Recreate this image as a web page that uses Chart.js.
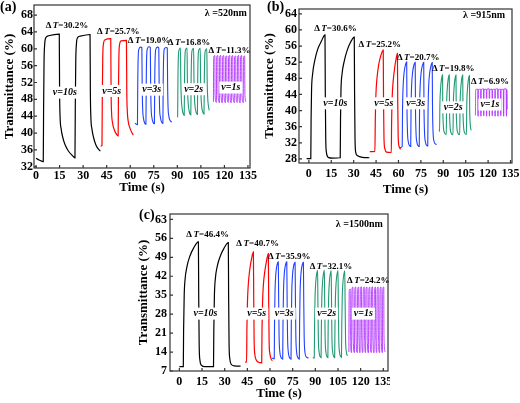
<!DOCTYPE html>
<html>
<head>
<meta charset="utf-8">
<script src="https://cdn.jsdelivr.net/npm/chart.js@4.4.1/dist/chart.umd.min.js"></script>
<style>
body { margin: 0; background: #fff; width: 520px; height: 403px; position: relative; overflow: hidden; }
canvas { position: absolute; }
.tag { position: absolute; font: bold 14px 'Liberation Serif', serif; line-height: 14px; color: #000; }
</style>
</head>
<body>
<canvas id="pa" width="260" height="200" style="left:0;top:0;width:260px;height:200px"></canvas>
<canvas id="pb" width="260" height="200" style="left:260px;top:0;width:260px;height:200px"></canvas>
<canvas id="pc" width="260" height="203" style="left:130px;top:200px;width:260px;height:203px"></canvas>
<div class="tag" style="left:0;top:0">(a)</div>
<div class="tag" style="left:267px;top:0">(b)</div>
<div class="tag" style="left:139px;top:208px">(c)</div>
<script>
// x ticks shared by all three panels
const xTicks = [0, 15, 30, 45, 60, 75, 90, 105, 120, 135];
const aYTicks = [32, 36, 40, 44, 48, 52, 56, 60, 64, 68];
const bYTicks = [28, 32, 36, 40, 44, 48, 52, 56, 60, 64];
const cYTicks = [7, 14, 21, 28, 35, 42, 49, 56, 63];

const speeds = ['10s', '5s', '3s', '2s', '1s'];

// panel (a), lambda = 520 nm
const aDelta = ['30.2', '25.7', '19.0', '16.8', '11.3'];
const aDeltaAt = [[19.7, 65.6], [52.4, 64.0], [72.0, 62.0], [97.5, 61.5], [123.3, 59.5]];
const aSpeedAt = [[18.3, 49.6], [48.2, 50.0], [73.7, 50.3], [100.4, 50.4], [124.1, 50.8]];
const aBlack = [[0,34.0],[2,33.6],[4.6,33.2],[4.8,45],[5.1,57],[5.5,61],[6.2,62.6],[8,63.1],[14.8,63.5],[15.0,50],[15.3,44],[16,41],[17,39],[18.5,37.2],[20.5,35.8],[23,34.7],[24.8,34.1],[25.0,46],[25.3,57],[25.7,61],[26.4,62.6],[28,63.0],[34.4,63.4],[34.6,50],[34.9,44],[35.6,41],[36.6,39],[38,37.3],[39.5,36.3],[41,35.7]];
const aRed = [[41.2,36.9],[42.0,37.0],[42.2,48],[42.5,58],[43.0,61.3],[43.8,62.1],[47.6,62.4],[47.8,50],[48.1,45],[48.8,42.3],[50,40.6],[51.5,39.6],[52.3,39.3],[52.5,50],[52.8,58.5],[53.3,61.2],[54.1,61.9],[57.6,62.0],[57.8,50],[58.1,45.5],[58.8,42.6],[60,41],[61.2,40],[62,39.5]];
const aBlue = [[63.0,42.3],
  [64.6,42.0],[64.8,52],[65.1,58.3],[65.6,60.0],[66.6,60.4],[67.4,60.3],[67.6,52],[67.9,46],[68.4,43.6],[69.2,42.4],
  [70.0,42.1],[70.2,52],[70.5,58.4],[71.0,60.1],[72.0,60.5],[72.8,60.3],[73.0,52],[73.3,46],[73.8,43.7],[74.6,42.5],
  [75.4,42.2],[75.6,52],[75.9,58.2],[76.4,60.0],[77.4,60.4],[78.2,60.2],[78.4,52],[78.7,46],[79.2,43.8],[80.0,42.6],
  [80.8,42.3],[81.0,52],[81.3,58.2],[81.8,60.0],[82.8,60.3],[83.6,60.2],[83.8,52],[84.1,46.2],[84.6,44],[85.4,43],[86.5,42.6]];
const aGreen = [[89.8,43.8],
  [90.2,43.9],[90.4,53],[90.7,58.4],[91.2,59.8],[92.0,60.2],[92.2,53],[92.5,48.5],[93.0,46],[93.7,44.6],
  [94.4,44.2],[94.6,53],[94.9,58.5],[95.4,59.9],[96.2,60.2],[96.4,53],[96.7,48.5],[97.2,46],[97.9,44.7],
  [98.6,44.3],[98.8,53],[99.1,58.4],[99.6,59.8],[100.4,60.1],[100.6,53],[100.9,48.5],[101.4,46],[102.1,44.8],
  [102.8,44.4],[103.0,53],[103.3,58.4],[103.8,59.8],[104.6,60.1],[104.8,53],[105.1,48.6],[105.6,46.1],[106.3,44.9],
  [107.0,44.5],[107.2,53],[107.5,58.3],[108.0,59.7],[108.8,60.0],[109.0,53],[109.3,48.8],[109.8,46.5],[110.3,45.4]];
const aPurple = [
  [113.0,47.4],[113.15,58.0],[113.9,58.4],[114.05,49],[114.8,47.3],
  [114.9,47.3],[115.05,58.0],[115.8,58.4],[115.95,49],[116.7,47.3],
  [116.8,47.2],[116.95,58.1],[117.7,58.4],[117.85,49],[118.6,47.2],
  [118.7,47.3],[118.85,58.0],[119.6,58.4],[119.75,49],[120.5,47.3],
  [120.6,47.2],[120.75,58.0],[121.5,58.3],[121.65,49],[122.4,47.3],
  [122.5,47.3],[122.65,58.1],[123.4,58.4],[123.55,49],[124.3,47.2],
  [124.4,47.3],[124.55,58.0],[125.3,58.4],[125.45,49],[126.2,47.3],
  [126.3,47.2],[126.45,58.0],[127.2,58.3],[127.35,49],[128.1,47.3],
  [128.2,47.3],[128.35,58.1],[129.1,58.4],[129.25,49],[130.0,47.2],
  [130.1,47.3],[130.25,58.0],[131.0,58.4],[131.15,49],[131.9,47.3],
  [132.0,47.2],[132.15,58.0],[132.9,58.3],[133.05,49],[133.8,47.4]];

// panel (b), lambda = 915 nm
const bDelta = ['30.6', '25.2', '20.7', '19.8', '6.9'];
const bDeltaAt = [[17.8, 60.2], [47.5, 56.3], [73.2, 53.2], [96.6, 50.5], [121.2, 47.2]];
const bSpeedAt = [[17.7, 41.8], [50.2, 41.8], [71.5, 41.8], [96.6, 40.8], [121.2, 41.5]];
const bBlack = [[-1.5,28.1],[1.3,28.1],[1.5,38],[1.8,45],[2.5,49],[4,52.5],[6,55.3],[8.5,57.3],[10.8,58.8],[11.0,45],[11.3,33],[11.8,29.5],[13,28.4],[16,28.2],[21.0,28.3],[21.2,38],[21.5,45],[22.2,49],[23.7,52.3],[25.7,55],[28,57],[30.4,58.2],[30.6,45],[30.9,33],[31.4,29.6],[32.6,28.8],[36,28.4],[40.5,28.3]];
const bRed = [[40.8,29.8],[44.2,29.9],[44.5,38],[44.9,44],[45.6,48],[46.8,51.5],[48.3,53.8],[49.8,55.0],[50.0,42],[50.3,33],[50.9,30.5],[52,29.7],[55.2,29.6],[55.4,37],[55.8,43.5],[56.5,47.5],[57.6,51],[58.5,53],[59.3,54.2],[59.5,42],[59.8,33.5],[60.5,31],[61.5,30.4]];
const bBlue = [[61.0,30.8],
  [62.5,31.1],[62.7,40],[63.1,46],[63.8,49.5],[64.7,51.4],[65.5,52.1],[65.65,42],[66.0,35],[66.7,32],[67.7,31.2],
  [68.2,31.1],[68.4,40],[68.8,46.2],[69.5,49.6],[70.4,51.4],[71.2,52.0],[71.35,42],[71.7,35],[72.4,32],[73.4,31.2],
  [73.9,31.1],[74.1,40],[74.5,46],[75.2,49.5],[76.1,51.3],[76.9,52.0],[77.05,42],[77.4,35],[78.1,32.1],[79.1,31.3],
  [79.6,31.2],[79.8,40],[80.2,46],[80.9,49.4],[81.8,51.2],[82.6,51.9],[82.75,42],[83.1,35.2],[83.8,32.4],[84.8,31.7],[85.5,31.6]];
const bGreen = [[87.3,35.3],
  [87.5,34.8],[87.7,41],[88.2,45.5],[88.8,47.8],[89.5,48.9],[89.65,41],[90.0,36.5],[90.7,34.6],[91.8,34.1],
  [92.0,34.0],[92.2,41],[92.7,45.6],[93.3,47.9],[94.0,48.9],[94.15,41],[94.5,36.4],[95.2,34.5],[96.3,34.0],
  [96.5,34.0],[96.7,41],[97.2,45.5],[97.8,47.8],[98.5,48.8],[98.65,41],[99.0,36.4],[99.7,34.5],[100.8,34.0],
  [101.0,34.0],[101.2,41],[101.7,45.5],[102.3,47.8],[103.0,48.8],[103.15,41],[103.5,36.5],[104.2,34.6],[105.3,34.1],
  [105.5,34.1],[105.7,41],[106.2,45.4],[106.8,47.7],[107.5,48.7],[107.65,41],[108.0,36.8],[108.6,35.1]];
const bPurple = [[111.5,38.8],[111.7,45.2],
  [113.1,45.3],[113.2,39],[113.35,38.6],[113.5,45.2],
  [115.0,45.3],[115.1,39],[115.25,38.6],[115.4,45.2],
  [116.9,45.4],[117.0,39],[117.15,38.7],[117.3,45.2],
  [118.8,45.3],[118.9,39],[119.05,38.6],[119.2,45.3],
  [120.7,45.4],[120.8,39],[120.95,38.6],[121.1,45.2],
  [122.6,45.3],[122.7,39],[122.85,38.7],[123.0,45.2],
  [124.5,45.3],[124.6,39],[124.75,38.6],[124.9,45.3],
  [126.4,45.4],[126.5,39],[126.65,38.6],[126.8,45.2],
  [128.3,45.3],[128.4,39],[128.55,38.7],[128.7,45.2],
  [130.2,45.3],[130.3,39],[130.45,38.6],[130.6,45.3],
  [132.1,45.4],[132.2,39],[132.35,38.6],[132.5,45.2],[132.8,40.3]];

// panel (c), lambda = 1500 nm
const cDelta = ['46.4', '40.7', '35.9', '32.1', '24.2'];
const cDeltaAt = [[18.7, 57.2], [51.8, 54.1], [72.7, 49.4], [100.3, 45.5], [125.1, 40.5]];
const cSpeedAt = [[17.3, 28.2], [51.2, 28.2], [69.4, 28.2], [97.5, 28.2], [121.8, 28.2]];
const cBlack = [[0,8.6],[2.6,8.6],[2.8,22],[3.2,35],[3.8,41],[5,45.5],[7,49.5],[9.5,52.5],[12.6,54.7],[12.8,35],[13.1,17],[13.6,11],[14.5,9.2],[17,8.6],[22.6,8.6],[22.8,22],[23.2,35],[23.8,41],[25,45.5],[27,49.3],[29.5,52.3],[32.4,54.4],[32.6,35],[32.9,17],[33.4,11.5],[34.3,9.5],[36.5,8.9],[40.5,8.8]];
const cRed = [[43.5,10.3],[44.5,10.3],[44.7,22],[45.1,33],[45.7,39.5],[46.6,44.5],[47.8,48.5],[49,51],[49.2,35],[49.5,18],[50,13],[51,11],[52.5,10.2],[54.5,10.0],[54.7,22],[55.1,33],[55.7,39.5],[56.6,44],[57.8,48],[58.9,50.4],[59.1,35],[59.4,18],[59.9,13.5],[60.7,11.5],[61.5,10.8]];
const cBlue = [[61.2,11.8],
  [62.8,11.5],[63.0,25],[63.3,36],[63.8,42.5],[64.6,46],[65.5,47.3],[65.7,35],[66.0,20],[66.5,14],[67.3,12],[68.1,11.5],
  [68.4,11.4],[68.6,25],[68.9,36],[69.4,42.6],[70.2,46],[71.1,47.3],[71.3,35],[71.6,20],[72.1,14],[72.9,12],[73.6,11.5],
  [73.9,11.4],[74.1,25],[74.4,36],[74.9,42.5],[75.7,46],[76.6,47.2],[76.8,35],[77.1,20],[77.6,14],[78.4,12],[79.1,11.5],
  [79.4,11.4],[79.6,25],[79.9,36],[80.4,42.4],[81.2,45.9],[82.1,47.2],[82.3,35],[82.6,20],[83.1,14],[84.0,12.2],[85.5,11.8]];
const cGreen = [[88.3,11.9],
  [89.3,11.8],[89.5,24],[89.8,34],[90.3,40],[91.0,43.3],[91.5,44.2],[91.7,33],[92.0,19],[92.5,14],[93.3,12.2],
  [93.8,11.9],[94.0,24],[94.3,34],[94.8,40],[95.5,43.3],[96.0,44.2],[96.2,33],[96.5,19],[97.0,14],[97.8,12.2],
  [98.3,11.9],[98.5,24],[98.8,34],[99.3,40],[100.0,43.2],[100.5,44.1],[100.7,33],[101.0,19],[101.5,14],[102.3,12.2],
  [102.8,11.9],[103.0,24],[103.3,34],[103.8,40],[104.5,43.2],[105.0,44.1],[105.2,33],[105.5,19],[106.0,14],[106.8,12.3],
  [107.3,12.0],[107.5,24],[107.8,34],[108.3,39.9],[109.0,43.1],[109.5,44.0],[109.7,33],[110.0,19],[110.5,14.2],[111.2,12.6]];
const cPurple = [
  [112.2,14.0],[112.3,30],[112.5,36.8],[113.1,37.3],[113.2,24],[113.4,17],[113.9,13.8],
  [114.0,13.8],[114.1,30],[114.3,37.5],[114.9,38],[115.0,24],[115.2,17],[115.7,13.8],
  [115.9,13.8],[116.0,30],[116.2,37.6],[116.8,38],[116.9,24],[117.1,17],[117.6,13.9],
  [117.8,13.8],[117.9,30],[118.1,37.5],[118.7,38],[118.8,24],[119.0,17],[119.5,13.8],
  [119.6,13.8],[119.7,30],[119.9,37.6],[120.5,38.1],[120.6,24],[120.8,17],[121.3,13.8],
  [121.5,13.9],[121.6,30],[121.8,37.5],[122.4,38],[122.5,24],[122.7,17],[123.2,13.8],
  [123.3,13.8],[123.4,30],[123.6,37.6],[124.2,38],[124.3,24],[124.5,17],[125.0,13.8],
  [125.2,13.8],[125.3,30],[125.5,37.5],[126.1,38],[126.2,24],[126.4,17],[126.9,13.9],
  [127.0,13.8],[127.1,30],[127.3,37.6],[127.9,38.1],[128.0,24],[128.2,17],[128.7,13.8],
  [128.9,13.8],[129.0,30],[129.2,37.5],[129.8,38],[129.9,24],[130.1,17],[130.6,13.8],
  [130.7,13.9],[130.8,30],[131.0,37.6],[131.6,38],[131.7,24],[131.9,17],[132.4,13.8],
  [132.6,13.8],[132.7,30],[132.9,37.5],[133.5,38],[133.6,24],[133.8,17],[134.3,13.8],
  [134.4,13.8],[134.5,30],[134.7,37.6],[135.3,38],[135.4,24],[135.6,17],[136.1,14.0]];

const FONT = "'Liberation Serif', 'Times New Roman', serif";
const COLORS = ['#000000', '#ff0000', '#2040ff', '#1f9a73', '#b030ff'];
const WIDTHS = [1.2, 1.2, 1.1, 1.1, 0.9];

// draws the box, inward ticks and the text notes from data coordinates
const notesPlugin = {
    id: 'notes',
    afterDatasetsDraw(chart, args, opts) {
        const ctx = chart.ctx;
        const xs = chart.scales.x, ys = chart.scales.y;
        ctx.save();
        ctx.font = 'italic bold 10px ' + FONT;
        ctx.textBaseline = 'middle';
        ctx.textAlign = 'center';
        opts.speedAt.forEach((p, i) => {
            const txt = 'v=' + speeds[i];
            const px = xs.getPixelForValue(p[0]), py = ys.getPixelForValue(p[1]);
            const w = ctx.measureText(txt).width + 4;
            ctx.fillStyle = '#fff';
            ctx.fillRect(px - w / 2, py - 6, w, 12);
            ctx.fillStyle = '#000';
            ctx.fillText(txt, px, py);
        });
        ctx.restore();
    },
    afterDraw(chart, args, opts) {
        const ctx = chart.ctx;
        const a = chart.chartArea;
        const xs = chart.scales.x, ys = chart.scales.y;
        ctx.save();
        ctx.strokeStyle = '#333';
        ctx.lineWidth = 1.2;
        ctx.strokeRect(a.left, a.top, a.right - a.left, a.bottom - a.top);
        ctx.beginPath();
        xs.ticks.forEach(t => {
            const px = xs.getPixelForValue(t.value);
            ctx.moveTo(px, a.bottom); ctx.lineTo(px, a.bottom - 3);
        });
        ys.ticks.forEach(t => {
            const py = ys.getPixelForValue(t.value);
            ctx.moveTo(a.left, py); ctx.lineTo(a.left + 3, py);
        });
        ctx.stroke();

        ctx.fillStyle = '#000';
        ctx.textBaseline = 'middle';
        ctx.textAlign = 'left';
        const reg = 'bold 9px ' + FONT, ital = 'italic bold 9px ' + FONT;
        opts.delta.forEach((d, i) => {
            const tail = '=' + d + '%';
            ctx.font = reg;
            const w1 = ctx.measureText('\u0394').width + 1.5;
            const w3 = ctx.measureText(tail).width;
            ctx.font = ital;
            const w2 = ctx.measureText('T').width;
            let px = xs.getPixelForValue(opts.deltaAt[i][0]) - (w1 + w2 + w3) / 2;
            const py = ys.getPixelForValue(opts.deltaAt[i][1]);
            ctx.font = reg; ctx.fillText('\u0394', px, py); px += w1;
            ctx.font = ital; ctx.fillText('T', px, py); px += w2;
            ctx.font = reg; ctx.fillText(tail, px, py);
        });

        ctx.font = 'bold 10px ' + FONT;
        ctx.textAlign = 'center';
        ctx.fillText('\u03bb =' + opts.lambda + 'nm', xs.getPixelForValue(opts.lambdaAt[0]), ys.getPixelForValue(opts.lambdaAt[1]));
        ctx.restore();
    }
};

function makePanel(id, series, box, yTicks, xLim, yLim, notes) {
    const tickFont = { family: FONT, size: 12, weight: 'bold' };
    const titleFont = { family: FONT, size: 13, weight: 'bold' };
    return new Chart(document.getElementById(id), {
        type: 'scatter',
        data: {
            datasets: series.map((s, i) => ({
                data: s.map(p => ({ x: p[0], y: p[1] })),
                showLine: true,
                borderColor: COLORS[i],
                borderWidth: WIDTHS[i],
                pointRadius: 0,
                cubicInterpolationMode: 'monotone',
                fill: false
            }))
        },
        options: {
            responsive: false,
            animation: false,
            devicePixelRatio: 1,
            layout: { padding: box.pad },
            plugins: { legend: { display: false }, tooltip: { enabled: false }, notes: notes },
            scales: {
                x: {
                    type: 'linear', min: xLim[0], max: xLim[1],
                    afterBuildTicks: s => { s.ticks = xTicks.map(v => ({ value: v })); },
                    afterFit: s => { s.height = box.xh; s.paddingLeft = 0; s.paddingRight = 0; },
                    grid: { display: false, drawTicks: false, tickLength: 0 },
                    border: { display: false },
                    ticks: { font: tickFont, color: '#000', padding: box.xp, maxRotation: 0, autoSkip: false },
                    title: { display: true, text: 'Time (s)', font: titleFont, color: '#000', padding: 0 }
                },
                y: {
                    type: 'linear', min: yLim[0], max: yLim[1],
                    afterBuildTicks: s => { s.ticks = yTicks.map(v => ({ value: v })); },
                    afterFit: s => { s.width = box.yw; s.paddingTop = 0; s.paddingBottom = 0; },
                    grid: { display: false, drawTicks: false, tickLength: 0 },
                    border: { display: false },
                    ticks: { font: tickFont, color: '#000', padding: box.yp, autoSkip: false },
                    title: { display: true, text: 'Transmittance (%)', font: titleFont, color: '#000', padding: 0 }
                }
            }
        },
        plugins: [notesPlugin]
    });
}

makePanel('pa', [aBlack, aRed, aBlue, aGreen, aPurple],
    { pad: { left: 2.2, right: 10, top: 5, bottom: 4.2 }, yw: 31.8, xh: 27.8, xp: 1, yp: 1 },
    aYTicks, [-1.3, 136.3], [31.7, 70.4],
    { delta: aDelta, deltaAt: aDeltaAt, speedAt: aSpeedAt, lambda: '520', lambdaAt: [120.9, 68.4] });

makePanel('pb', [bBlack, bRed, bBlue, bGreen, bPurple],
    { pad: { left: 2.2, right: 8, top: 9, bottom: 2.2 }, yw: 36.8, xh: 34.8, xp: 4, yp: 2 },
    bYTicks, [-6.6, 136.0], [27, 65.2],
    { delta: bDelta, deltaAt: bDeltaAt, speedAt: bSpeedAt, lambda: '915', lambdaAt: [117.3, 63.5] });

makePanel('pc', [cBlack, cRed, cBlue, cGreen, cPurple],
    { pad: { left: 5.5, right: 2, top: 14, bottom: 1.9 }, yw: 34.5, xh: 30.1, xp: 4, yp: 3 },
    cYTicks, [-6.2, 138.1], [7, 65],
    { delta: cDelta, deltaAt: cDeltaAt, speedAt: cSpeedAt, lambda: '1500', lambdaAt: [119.1, 61.3] });
</script>
</body>
</html>
